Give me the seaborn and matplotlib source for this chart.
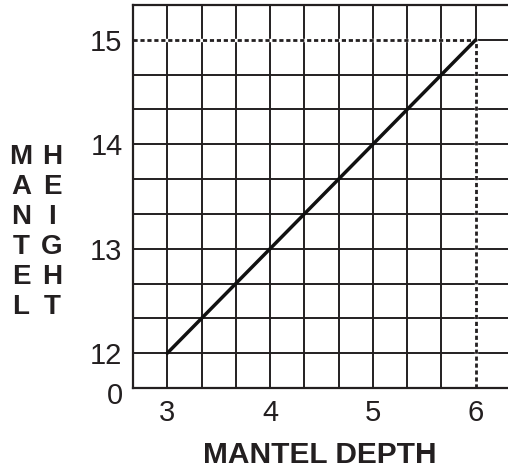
import numpy as np
import pandas as pd
import matplotlib
matplotlib.use("Agg")
import matplotlib.pyplot as plt
import matplotlib.transforms as mtransforms
import seaborn as sns

# data
depth = [3, 6]
height = [12, 15]
ref_depth = 6
ref_height = 15
x_ticks = [3, 4, 5, 6]
y_ticks = [11 + 2 / 3, 12, 13, 14, 15]
y_tick_labels = ["0", "12", "13", "14", "15"]
x_label = "MANTEL DEPTH"
y_label_left = "MANTEL"
y_label_right = "HEIGHT"

sns.set_style("white")
plt.rcParams["font.family"] = ["Liberation Sans", "DejaVu Sans"]

INK = "#231f20"
x_min, x_max = 2 + 2 / 3, 6 + 1 / 3
y_min, y_max = 11 + 2 / 3, 15 + 1 / 3

fig = plt.figure(figsize=(5.08, 4.70), dpi=100)
ax = fig.add_axes([133 / 508, 1 - 388 / 470, 377 / 508, 383 / 470])

df = pd.DataFrame({"depth": depth, "height": height})

# grid every third of a unit
ax.set_xticks(np.arange(x_min, x_max + 0.01, 1 / 3), minor=True)
ax.set_yticks(np.arange(y_min, y_max + 0.01, 1 / 3), minor=True)
ax.grid(True, which="both", color=INK, linewidth=1.4)
ax.set_axisbelow(True)

# dotted guides at the end point
ax.plot([x_min, ref_depth], [ref_height, ref_height], color="white", linewidth=2.4, zorder=2)
ax.plot([ref_depth, ref_depth], [y_min, ref_height], color="white", linewidth=2.4, zorder=2)
ax.plot([x_min, ref_depth], [ref_height, ref_height], color=INK, linewidth=2.0,
        linestyle=(0, (1.5, 1.0)), zorder=3)
ax.plot([ref_depth, ref_depth], [y_min, ref_height], color=INK, linewidth=2.0,
        linestyle=(0, (1.5, 1.0)), zorder=3)

sns.lineplot(data=df, x="depth", y="height", ax=ax, color="#111111", linewidth=2.5, zorder=4)

ax.set_xlim(x_min, x_max)
ax.set_ylim(y_min, y_max)
ax.set_xticks(x_ticks)
ax.set_xticklabels([str(v) for v in x_ticks])
ax.set_yticks(y_ticks)
ax.set_yticklabels(y_tick_labels)
ax.tick_params(axis="both", length=0, labelsize=21, colors=INK)
ax.tick_params(axis="x", pad=8)
ax.tick_params(axis="y", pad=7.5)
ax.set_xlabel("")
ax.set_ylabel("")

for side in ["left", "bottom", "top"]:
    ax.spines[side].set_color(INK)
    ax.spines[side].set_linewidth(1.6)
ax.spines["right"].set_visible(False)

# nudge the broken-axis "0" down a little
zero_lbl = ax.get_yticklabels()[0]
zero_lbl.set_transform(zero_lbl.get_transform()
                       + mtransforms.ScaledTranslation(0, -5 / 100, fig.dpi_scale_trans))

fig.text(320 / 508, 1 - 455 / 470, x_label, ha="center", va="center",
         fontsize=21.5, fontweight="bold", color=INK)

# stacked y label, two columns
row_gap = 30
first_row = 157
for col_x, word in [(21, y_label_left), (52, y_label_right)]:
    for i, ch in enumerate(word):
        fig.text(col_x / 508, 1 - (first_row + i * row_gap) / 470, ch,
                 ha="center", va="center", fontsize=20, fontweight="bold", color=INK)

fig.savefig("out.png", dpi=100)
